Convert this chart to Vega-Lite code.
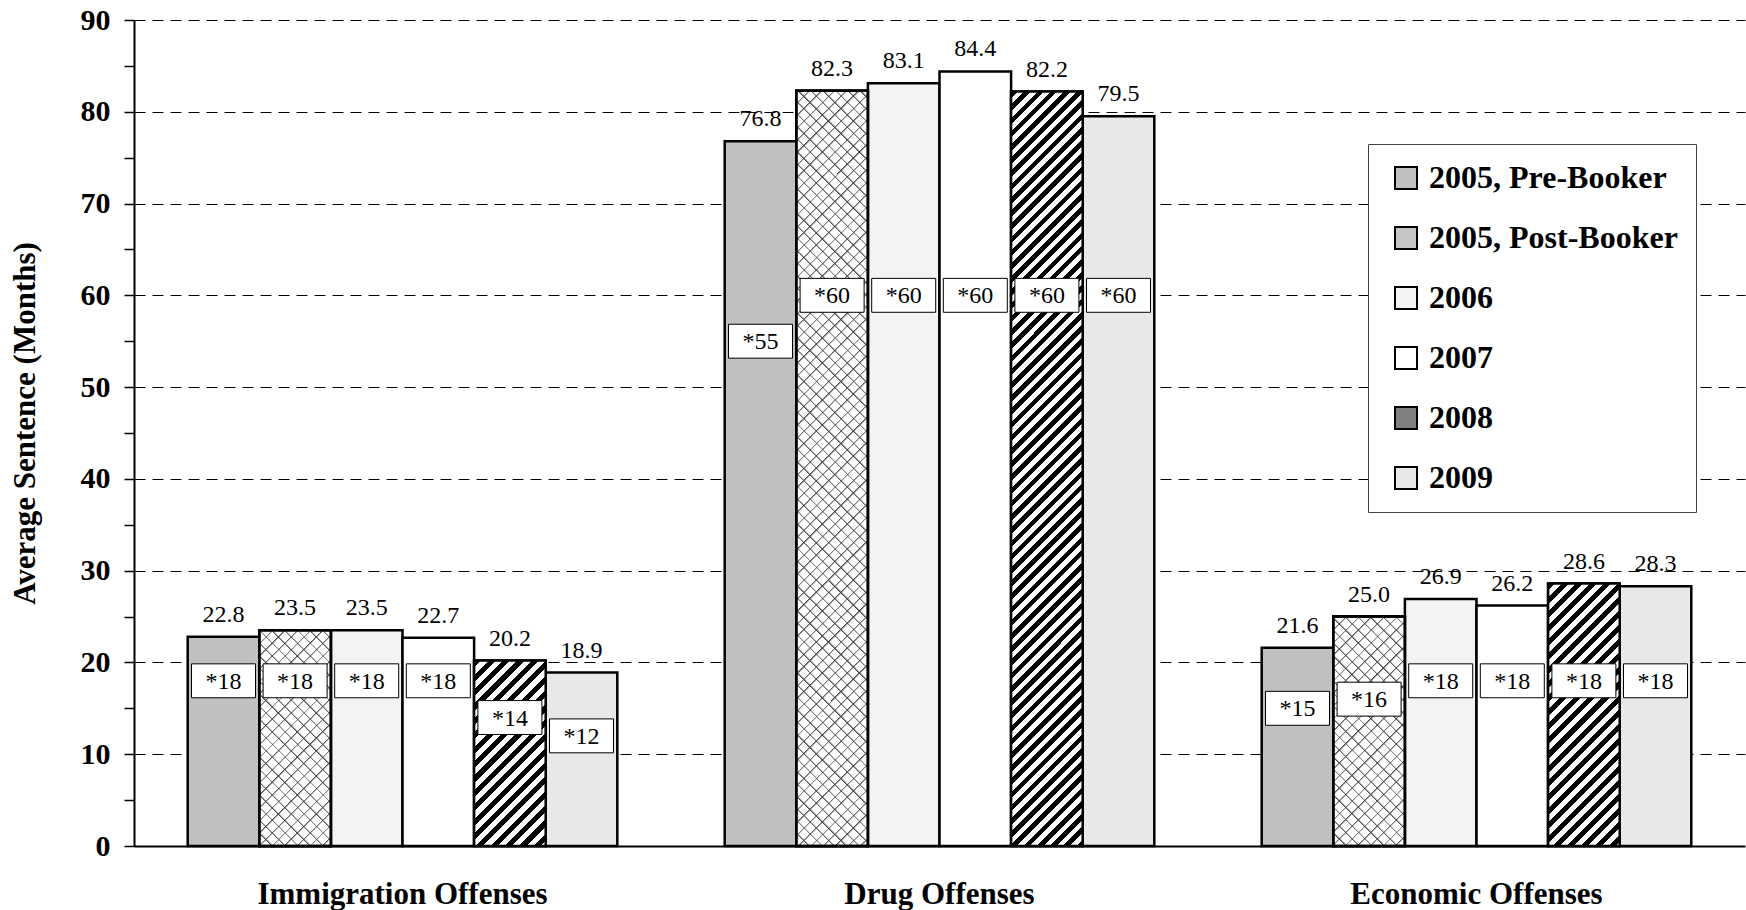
{
  "$schema": "https://vega.github.io/schema/vega-lite/v6.json",
  "autosize": {"type": "none"},
  "width": 1611,
  "height": 826,
  "padding": {"left": 134, "top": 20, "right": 1, "bottom": 64},
  "background": "white",
  "config": {"view": {"stroke": null}, "font": "Liberation Serif"},
  "data": {"values": [
    {"cat": "Immigration Offenses", "series": "2005, Pre-Booker", "value": 22.8, "median": 18, "mlabel": "*18"},
    {"cat": "Immigration Offenses", "series": "2005, Post-Booker", "value": 23.5, "median": 18, "mlabel": "*18"},
    {"cat": "Immigration Offenses", "series": "2006", "value": 23.5, "median": 18, "mlabel": "*18"},
    {"cat": "Immigration Offenses", "series": "2007", "value": 22.7, "median": 18, "mlabel": "*18"},
    {"cat": "Immigration Offenses", "series": "2008", "value": 20.2, "median": 14, "mlabel": "*14"},
    {"cat": "Immigration Offenses", "series": "2009", "value": 18.9, "median": 12, "mlabel": "*12"},
    {"cat": "Drug Offenses", "series": "2005, Pre-Booker", "value": 76.8, "median": 55, "mlabel": "*55"},
    {"cat": "Drug Offenses", "series": "2005, Post-Booker", "value": 82.3, "median": 60, "mlabel": "*60"},
    {"cat": "Drug Offenses", "series": "2006", "value": 83.1, "median": 60, "mlabel": "*60"},
    {"cat": "Drug Offenses", "series": "2007", "value": 84.4, "median": 60, "mlabel": "*60"},
    {"cat": "Drug Offenses", "series": "2008", "value": 82.2, "median": 60, "mlabel": "*60"},
    {"cat": "Drug Offenses", "series": "2009", "value": 79.5, "median": 60, "mlabel": "*60"},
    {"cat": "Economic Offenses", "series": "2005, Pre-Booker", "value": 21.6, "median": 15, "mlabel": "*15"},
    {"cat": "Economic Offenses", "series": "2005, Post-Booker", "value": 25.0, "median": 16, "mlabel": "*16"},
    {"cat": "Economic Offenses", "series": "2006", "value": 26.9, "median": 18, "mlabel": "*18"},
    {"cat": "Economic Offenses", "series": "2007", "value": 26.2, "median": 18, "mlabel": "*18"},
    {"cat": "Economic Offenses", "series": "2008", "value": 28.6, "median": 18, "mlabel": "*18"},
    {"cat": "Economic Offenses", "series": "2009", "value": 28.3, "median": 18, "mlabel": "*18"}
  ]},
  "encoding": {
    "x": {
      "field": "cat", "type": "nominal",
      "sort": ["Immigration Offenses", "Drug Offenses", "Economic Offenses"],
      "scale": {"paddingInner": 0.2, "paddingOuter": 0.1},
      "axis": {"title": null, "labelAngle": 0, "labelFont": "Liberation Serif", "labelFontWeight": "bold", "labelFontSize": 31, "labelColor": "#000", "labelLimit": 600, "ticks": false, "domainColor": "#000", "domainWidth": 2, "labelPadding": 57, "labelBaseline": "alphabetic"}
    },
    "xOffset": {
      "field": "series", "type": "nominal",
      "scale": {"domain": ["2005, Pre-Booker", "2005, Post-Booker", "2006", "2007", "2008", "2009"], "paddingInner": 0, "paddingOuter": 0}
    }
  },
  "layer": [
    {
      "mark": {"type": "bar", "stroke": "#000", "strokeWidth": 2.5},
      "encoding": {
        "y": {
          "field": "value", "type": "quantitative",
          "scale": {"domain": [0, 90], "nice": false},
          "axis": {
            "title": "Average Sentence (Months)", "titleFont": "Liberation Serif", "titleFontSize": 31, "titleFontWeight": "bold", "titleColor": "#000",
            "titleX": -109, "titleY": 403, "titleAngle": -90, "titleAlign": "center", "titleBaseline": "middle",
            "values": [0, 5, 10, 15, 20, 25, 30, 35, 40, 45, 50, 55, 60, 65, 70, 75, 80, 85, 90],
            "labelExpr": "datum.value % 10 === 0 ? datum.label : ''",
            "labelFont": "Liberation Serif", "labelFontWeight": "bold", "labelFontSize": 30, "labelColor": "#000", "labelPadding": 14, "labelBaseline": "middle",
            "tickColor": "#000", "tickSize": 10, "tickWidth": 1.5,
            "domainColor": "#000", "domainWidth": 2,
            "grid": true, "gridColor": "#000", "gridDash": [11, 7], "gridWidth": 1,
            "gridOpacity": {"condition": {"test": "datum.value % 10 === 0 && datum.value > 0", "value": 1}, "value": 0}
          }
        },
        "color": {
          "field": "series", "type": "nominal",
          "scale": {"domain": ["2005, Pre-Booker", "2005, Post-Booker", "2006", "2007", "2008", "2009"], "range": ["#c0c0c0", "#c6c6c6", "#f3f3f3", "#ffffff", "#808080", "#e8e8e8"]},
          "legend": {
            "title": null, "orient": "none", "legendX": 1234, "legendY": 124, "direction": "vertical",
            "fillColor": "#fff", "strokeColor": "#444", "padding": 18,
            "symbolType": "square", "symbolSize": 484, "symbolStrokeColor": "#000", "symbolStrokeWidth": 2, "symbolOffset": 4,
            "labelFont": "Liberation Serif", "labelFontWeight": "bold", "labelFontSize": 32, "labelColor": "#000", "labelOffset": 7, "rowPadding": 28, "labelLimit": 400
          }
        }
      }
    },
    {
      "transform": [{"filter": "datum.series === '2005, Post-Booker' && datum.cat === 'Immigration Offenses'"}],
      "mark": {"type": "bar", "stroke": "#000", "strokeWidth": 2.5, "fill": {"gradient": "linear", "x1": 0, "y1": 0, "x2": 0.3983, "y2": 1.1998, "stops": [
        {"offset":0,"color":"#444"},{"offset":0.008,"color":"#fff"},
        {"offset":0.044,"color":"#fff"},{"offset":0.044,"color":"#444"},{"offset":0.052,"color":"#fff"},
        {"offset":0.088,"color":"#fff"},{"offset":0.088,"color":"#444"},{"offset":0.096,"color":"#fff"},
        {"offset":0.132,"color":"#fff"},{"offset":0.132,"color":"#444"},{"offset":0.14,"color":"#fff"},
        {"offset":0.176,"color":"#fff"},{"offset":0.176,"color":"#444"},{"offset":0.184,"color":"#fff"},
        {"offset":0.22,"color":"#fff"},{"offset":0.22,"color":"#444"},{"offset":0.228,"color":"#fff"},
        {"offset":0.264,"color":"#fff"},{"offset":0.264,"color":"#444"},{"offset":0.272,"color":"#fff"},
        {"offset":0.308,"color":"#fff"},{"offset":0.308,"color":"#444"},{"offset":0.316,"color":"#fff"},
        {"offset":0.352,"color":"#fff"},{"offset":0.352,"color":"#444"},{"offset":0.36,"color":"#fff"},
        {"offset":0.396,"color":"#fff"},{"offset":0.396,"color":"#444"},{"offset":0.404,"color":"#fff"},
        {"offset":0.44,"color":"#fff"},{"offset":0.44,"color":"#444"},{"offset":0.448,"color":"#fff"},
        {"offset":0.484,"color":"#fff"},{"offset":0.484,"color":"#444"},{"offset":0.492,"color":"#fff"},
        {"offset":0.528,"color":"#fff"},{"offset":0.528,"color":"#444"},{"offset":0.536,"color":"#fff"},
        {"offset":0.572,"color":"#fff"},{"offset":0.572,"color":"#444"},{"offset":0.58,"color":"#fff"},
        {"offset":0.616,"color":"#fff"},{"offset":0.616,"color":"#444"},{"offset":0.624,"color":"#fff"},
        {"offset":0.66,"color":"#fff"},{"offset":0.66,"color":"#444"},{"offset":0.668,"color":"#fff"},
        {"offset":0.704,"color":"#fff"},{"offset":0.704,"color":"#444"},{"offset":0.712,"color":"#fff"},
        {"offset":0.748,"color":"#fff"},{"offset":0.748,"color":"#444"},{"offset":0.756,"color":"#fff"},
        {"offset":0.792,"color":"#fff"},{"offset":0.792,"color":"#444"},{"offset":0.8,"color":"#fff"},
        {"offset":0.836,"color":"#fff"},{"offset":0.836,"color":"#444"},{"offset":0.844,"color":"#fff"},
        {"offset":0.88,"color":"#fff"},{"offset":0.88,"color":"#444"},{"offset":0.888,"color":"#fff"},
        {"offset":0.924,"color":"#fff"},{"offset":0.924,"color":"#444"},{"offset":0.932,"color":"#fff"},
        {"offset":0.968,"color":"#fff"},{"offset":0.968,"color":"#444"},{"offset":0.976,"color":"#fff"}
      ]}},
      "encoding": {"y": {"field": "value", "type": "quantitative"}}
    },
    {
      "transform": [{"filter": "datum.series === '2005, Post-Booker' && datum.cat === 'Immigration Offenses'"}],
      "mark": {"type": "bar", "stroke": "#000", "strokeWidth": 2.5, "fill": {"gradient": "linear", "x1": 0, "y1": 1, "x2": 0.3983, "y2": -0.1998, "stops": [
        {"offset":0,"color":"#444"},{"offset":0.008,"color":"rgba(68,68,68,0)"},
        {"offset":0.044,"color":"rgba(68,68,68,0)"},{"offset":0.044,"color":"#444"},{"offset":0.052,"color":"rgba(68,68,68,0)"},
        {"offset":0.088,"color":"rgba(68,68,68,0)"},{"offset":0.088,"color":"#444"},{"offset":0.096,"color":"rgba(68,68,68,0)"},
        {"offset":0.132,"color":"rgba(68,68,68,0)"},{"offset":0.132,"color":"#444"},{"offset":0.14,"color":"rgba(68,68,68,0)"},
        {"offset":0.176,"color":"rgba(68,68,68,0)"},{"offset":0.176,"color":"#444"},{"offset":0.184,"color":"rgba(68,68,68,0)"},
        {"offset":0.22,"color":"rgba(68,68,68,0)"},{"offset":0.22,"color":"#444"},{"offset":0.228,"color":"rgba(68,68,68,0)"},
        {"offset":0.264,"color":"rgba(68,68,68,0)"},{"offset":0.264,"color":"#444"},{"offset":0.272,"color":"rgba(68,68,68,0)"},
        {"offset":0.308,"color":"rgba(68,68,68,0)"},{"offset":0.308,"color":"#444"},{"offset":0.316,"color":"rgba(68,68,68,0)"},
        {"offset":0.352,"color":"rgba(68,68,68,0)"},{"offset":0.352,"color":"#444"},{"offset":0.36,"color":"rgba(68,68,68,0)"},
        {"offset":0.396,"color":"rgba(68,68,68,0)"},{"offset":0.396,"color":"#444"},{"offset":0.404,"color":"rgba(68,68,68,0)"},
        {"offset":0.44,"color":"rgba(68,68,68,0)"},{"offset":0.44,"color":"#444"},{"offset":0.448,"color":"rgba(68,68,68,0)"},
        {"offset":0.484,"color":"rgba(68,68,68,0)"},{"offset":0.484,"color":"#444"},{"offset":0.492,"color":"rgba(68,68,68,0)"},
        {"offset":0.528,"color":"rgba(68,68,68,0)"},{"offset":0.528,"color":"#444"},{"offset":0.536,"color":"rgba(68,68,68,0)"},
        {"offset":0.572,"color":"rgba(68,68,68,0)"},{"offset":0.572,"color":"#444"},{"offset":0.58,"color":"rgba(68,68,68,0)"},
        {"offset":0.616,"color":"rgba(68,68,68,0)"},{"offset":0.616,"color":"#444"},{"offset":0.624,"color":"rgba(68,68,68,0)"},
        {"offset":0.66,"color":"rgba(68,68,68,0)"},{"offset":0.66,"color":"#444"},{"offset":0.668,"color":"rgba(68,68,68,0)"},
        {"offset":0.704,"color":"rgba(68,68,68,0)"},{"offset":0.704,"color":"#444"},{"offset":0.712,"color":"rgba(68,68,68,0)"},
        {"offset":0.748,"color":"rgba(68,68,68,0)"},{"offset":0.748,"color":"#444"},{"offset":0.756,"color":"rgba(68,68,68,0)"},
        {"offset":0.792,"color":"rgba(68,68,68,0)"},{"offset":0.792,"color":"#444"},{"offset":0.8,"color":"rgba(68,68,68,0)"},
        {"offset":0.836,"color":"rgba(68,68,68,0)"},{"offset":0.836,"color":"#444"},{"offset":0.844,"color":"rgba(68,68,68,0)"},
        {"offset":0.88,"color":"rgba(68,68,68,0)"},{"offset":0.88,"color":"#444"},{"offset":0.888,"color":"rgba(68,68,68,0)"},
        {"offset":0.924,"color":"rgba(68,68,68,0)"},{"offset":0.924,"color":"#444"},{"offset":0.932,"color":"rgba(68,68,68,0)"},
        {"offset":0.968,"color":"rgba(68,68,68,0)"},{"offset":0.968,"color":"#444"},{"offset":0.976,"color":"rgba(68,68,68,0)"}
      ]}},
      "encoding": {"y": {"field": "value", "type": "quantitative"}}
    },
    {
      "transform": [{"filter": "datum.series === '2005, Post-Booker' && datum.cat === 'Economic Offenses'"}],
      "mark": {"type": "bar", "stroke": "#000", "strokeWidth": 2.5, "fill": {"gradient": "linear", "x1": 0, "y1": 0, "x2": 0.3732, "y2": 1.1956, "stops": [
        {"offset":0,"color":"#444"},{"offset":0.008,"color":"#fff"},
        {"offset":0.042,"color":"#fff"},{"offset":0.042,"color":"#444"},{"offset":0.05,"color":"#fff"},
        {"offset":0.084,"color":"#fff"},{"offset":0.084,"color":"#444"},{"offset":0.092,"color":"#fff"},
        {"offset":0.126,"color":"#fff"},{"offset":0.126,"color":"#444"},{"offset":0.134,"color":"#fff"},
        {"offset":0.168,"color":"#fff"},{"offset":0.168,"color":"#444"},{"offset":0.176,"color":"#fff"},
        {"offset":0.21,"color":"#fff"},{"offset":0.21,"color":"#444"},{"offset":0.218,"color":"#fff"},
        {"offset":0.252,"color":"#fff"},{"offset":0.252,"color":"#444"},{"offset":0.26,"color":"#fff"},
        {"offset":0.294,"color":"#fff"},{"offset":0.294,"color":"#444"},{"offset":0.302,"color":"#fff"},
        {"offset":0.336,"color":"#fff"},{"offset":0.336,"color":"#444"},{"offset":0.344,"color":"#fff"},
        {"offset":0.378,"color":"#fff"},{"offset":0.378,"color":"#444"},{"offset":0.386,"color":"#fff"},
        {"offset":0.42,"color":"#fff"},{"offset":0.42,"color":"#444"},{"offset":0.428,"color":"#fff"},
        {"offset":0.462,"color":"#fff"},{"offset":0.462,"color":"#444"},{"offset":0.47,"color":"#fff"},
        {"offset":0.504,"color":"#fff"},{"offset":0.504,"color":"#444"},{"offset":0.512,"color":"#fff"},
        {"offset":0.546,"color":"#fff"},{"offset":0.546,"color":"#444"},{"offset":0.554,"color":"#fff"},
        {"offset":0.588,"color":"#fff"},{"offset":0.588,"color":"#444"},{"offset":0.596,"color":"#fff"},
        {"offset":0.63,"color":"#fff"},{"offset":0.63,"color":"#444"},{"offset":0.638,"color":"#fff"},
        {"offset":0.672,"color":"#fff"},{"offset":0.672,"color":"#444"},{"offset":0.68,"color":"#fff"},
        {"offset":0.714,"color":"#fff"},{"offset":0.714,"color":"#444"},{"offset":0.722,"color":"#fff"},
        {"offset":0.756,"color":"#fff"},{"offset":0.756,"color":"#444"},{"offset":0.764,"color":"#fff"},
        {"offset":0.798,"color":"#fff"},{"offset":0.798,"color":"#444"},{"offset":0.806,"color":"#fff"},
        {"offset":0.84,"color":"#fff"},{"offset":0.84,"color":"#444"},{"offset":0.848,"color":"#fff"},
        {"offset":0.882,"color":"#fff"},{"offset":0.882,"color":"#444"},{"offset":0.89,"color":"#fff"},
        {"offset":0.924,"color":"#fff"},{"offset":0.924,"color":"#444"},{"offset":0.932,"color":"#fff"},
        {"offset":0.966,"color":"#fff"},{"offset":0.966,"color":"#444"},{"offset":0.974,"color":"#fff"}
      ]}},
      "encoding": {"y": {"field": "value", "type": "quantitative"}}
    },
    {
      "transform": [{"filter": "datum.series === '2005, Post-Booker' && datum.cat === 'Economic Offenses'"}],
      "mark": {"type": "bar", "stroke": "#000", "strokeWidth": 2.5, "fill": {"gradient": "linear", "x1": 0, "y1": 1, "x2": 0.3732, "y2": -0.1956, "stops": [
        {"offset":0,"color":"#444"},{"offset":0.008,"color":"rgba(68,68,68,0)"},
        {"offset":0.042,"color":"rgba(68,68,68,0)"},{"offset":0.042,"color":"#444"},{"offset":0.05,"color":"rgba(68,68,68,0)"},
        {"offset":0.084,"color":"rgba(68,68,68,0)"},{"offset":0.084,"color":"#444"},{"offset":0.092,"color":"rgba(68,68,68,0)"},
        {"offset":0.126,"color":"rgba(68,68,68,0)"},{"offset":0.126,"color":"#444"},{"offset":0.134,"color":"rgba(68,68,68,0)"},
        {"offset":0.168,"color":"rgba(68,68,68,0)"},{"offset":0.168,"color":"#444"},{"offset":0.176,"color":"rgba(68,68,68,0)"},
        {"offset":0.21,"color":"rgba(68,68,68,0)"},{"offset":0.21,"color":"#444"},{"offset":0.218,"color":"rgba(68,68,68,0)"},
        {"offset":0.252,"color":"rgba(68,68,68,0)"},{"offset":0.252,"color":"#444"},{"offset":0.26,"color":"rgba(68,68,68,0)"},
        {"offset":0.294,"color":"rgba(68,68,68,0)"},{"offset":0.294,"color":"#444"},{"offset":0.302,"color":"rgba(68,68,68,0)"},
        {"offset":0.336,"color":"rgba(68,68,68,0)"},{"offset":0.336,"color":"#444"},{"offset":0.344,"color":"rgba(68,68,68,0)"},
        {"offset":0.378,"color":"rgba(68,68,68,0)"},{"offset":0.378,"color":"#444"},{"offset":0.386,"color":"rgba(68,68,68,0)"},
        {"offset":0.42,"color":"rgba(68,68,68,0)"},{"offset":0.42,"color":"#444"},{"offset":0.428,"color":"rgba(68,68,68,0)"},
        {"offset":0.462,"color":"rgba(68,68,68,0)"},{"offset":0.462,"color":"#444"},{"offset":0.47,"color":"rgba(68,68,68,0)"},
        {"offset":0.504,"color":"rgba(68,68,68,0)"},{"offset":0.504,"color":"#444"},{"offset":0.512,"color":"rgba(68,68,68,0)"},
        {"offset":0.546,"color":"rgba(68,68,68,0)"},{"offset":0.546,"color":"#444"},{"offset":0.554,"color":"rgba(68,68,68,0)"},
        {"offset":0.588,"color":"rgba(68,68,68,0)"},{"offset":0.588,"color":"#444"},{"offset":0.596,"color":"rgba(68,68,68,0)"},
        {"offset":0.63,"color":"rgba(68,68,68,0)"},{"offset":0.63,"color":"#444"},{"offset":0.638,"color":"rgba(68,68,68,0)"},
        {"offset":0.672,"color":"rgba(68,68,68,0)"},{"offset":0.672,"color":"#444"},{"offset":0.68,"color":"rgba(68,68,68,0)"},
        {"offset":0.714,"color":"rgba(68,68,68,0)"},{"offset":0.714,"color":"#444"},{"offset":0.722,"color":"rgba(68,68,68,0)"},
        {"offset":0.756,"color":"rgba(68,68,68,0)"},{"offset":0.756,"color":"#444"},{"offset":0.764,"color":"rgba(68,68,68,0)"},
        {"offset":0.798,"color":"rgba(68,68,68,0)"},{"offset":0.798,"color":"#444"},{"offset":0.806,"color":"rgba(68,68,68,0)"},
        {"offset":0.84,"color":"rgba(68,68,68,0)"},{"offset":0.84,"color":"#444"},{"offset":0.848,"color":"rgba(68,68,68,0)"},
        {"offset":0.882,"color":"rgba(68,68,68,0)"},{"offset":0.882,"color":"#444"},{"offset":0.89,"color":"rgba(68,68,68,0)"},
        {"offset":0.924,"color":"rgba(68,68,68,0)"},{"offset":0.924,"color":"#444"},{"offset":0.932,"color":"rgba(68,68,68,0)"},
        {"offset":0.966,"color":"rgba(68,68,68,0)"},{"offset":0.966,"color":"#444"},{"offset":0.974,"color":"rgba(68,68,68,0)"}
      ]}},
      "encoding": {"y": {"field": "value", "type": "quantitative"}}
    },
    {
      "transform": [{"filter": "datum.series === '2005, Post-Booker' && datum.cat === 'Drug Offenses'"}],
      "mark": {"type": "bar", "stroke": "#000", "strokeWidth": 2.5, "fill": {"gradient": "linear", "x1": 0, "y1": 0, "x2": 0.1029, "y2": 1.0851, "stops": [
        {"offset":0,"color":"#444"},{"offset":0.003,"color":"#fff"},
        {"offset":0.015,"color":"#fff"},{"offset":0.015,"color":"#444"},{"offset":0.018,"color":"#fff"},
        {"offset":0.03,"color":"#fff"},{"offset":0.03,"color":"#444"},{"offset":0.033,"color":"#fff"},
        {"offset":0.045,"color":"#fff"},{"offset":0.045,"color":"#444"},{"offset":0.048,"color":"#fff"},
        {"offset":0.06,"color":"#fff"},{"offset":0.06,"color":"#444"},{"offset":0.063,"color":"#fff"},
        {"offset":0.075,"color":"#fff"},{"offset":0.075,"color":"#444"},{"offset":0.078,"color":"#fff"},
        {"offset":0.09,"color":"#fff"},{"offset":0.09,"color":"#444"},{"offset":0.093,"color":"#fff"},
        {"offset":0.105,"color":"#fff"},{"offset":0.105,"color":"#444"},{"offset":0.108,"color":"#fff"},
        {"offset":0.12,"color":"#fff"},{"offset":0.12,"color":"#444"},{"offset":0.123,"color":"#fff"},
        {"offset":0.135,"color":"#fff"},{"offset":0.135,"color":"#444"},{"offset":0.138,"color":"#fff"},
        {"offset":0.15,"color":"#fff"},{"offset":0.15,"color":"#444"},{"offset":0.153,"color":"#fff"},
        {"offset":0.165,"color":"#fff"},{"offset":0.165,"color":"#444"},{"offset":0.168,"color":"#fff"},
        {"offset":0.18,"color":"#fff"},{"offset":0.18,"color":"#444"},{"offset":0.183,"color":"#fff"},
        {"offset":0.195,"color":"#fff"},{"offset":0.195,"color":"#444"},{"offset":0.198,"color":"#fff"},
        {"offset":0.21,"color":"#fff"},{"offset":0.21,"color":"#444"},{"offset":0.213,"color":"#fff"},
        {"offset":0.225,"color":"#fff"},{"offset":0.225,"color":"#444"},{"offset":0.228,"color":"#fff"},
        {"offset":0.24,"color":"#fff"},{"offset":0.24,"color":"#444"},{"offset":0.243,"color":"#fff"},
        {"offset":0.255,"color":"#fff"},{"offset":0.255,"color":"#444"},{"offset":0.258,"color":"#fff"},
        {"offset":0.27,"color":"#fff"},{"offset":0.27,"color":"#444"},{"offset":0.273,"color":"#fff"},
        {"offset":0.285,"color":"#fff"},{"offset":0.285,"color":"#444"},{"offset":0.288,"color":"#fff"},
        {"offset":0.3,"color":"#fff"},{"offset":0.3,"color":"#444"},{"offset":0.303,"color":"#fff"},
        {"offset":0.315,"color":"#fff"},{"offset":0.315,"color":"#444"},{"offset":0.318,"color":"#fff"},
        {"offset":0.33,"color":"#fff"},{"offset":0.33,"color":"#444"},{"offset":0.333,"color":"#fff"},
        {"offset":0.345,"color":"#fff"},{"offset":0.345,"color":"#444"},{"offset":0.348,"color":"#fff"},
        {"offset":0.36,"color":"#fff"},{"offset":0.36,"color":"#444"},{"offset":0.363,"color":"#fff"},
        {"offset":0.375,"color":"#fff"},{"offset":0.375,"color":"#444"},{"offset":0.378,"color":"#fff"},
        {"offset":0.39,"color":"#fff"},{"offset":0.39,"color":"#444"},{"offset":0.393,"color":"#fff"},
        {"offset":0.405,"color":"#fff"},{"offset":0.405,"color":"#444"},{"offset":0.408,"color":"#fff"},
        {"offset":0.42,"color":"#fff"},{"offset":0.42,"color":"#444"},{"offset":0.423,"color":"#fff"},
        {"offset":0.435,"color":"#fff"},{"offset":0.435,"color":"#444"},{"offset":0.438,"color":"#fff"},
        {"offset":0.45,"color":"#fff"},{"offset":0.45,"color":"#444"},{"offset":0.453,"color":"#fff"},
        {"offset":0.465,"color":"#fff"},{"offset":0.465,"color":"#444"},{"offset":0.468,"color":"#fff"},
        {"offset":0.48,"color":"#fff"},{"offset":0.48,"color":"#444"},{"offset":0.483,"color":"#fff"},
        {"offset":0.495,"color":"#fff"},{"offset":0.495,"color":"#444"},{"offset":0.498,"color":"#fff"},
        {"offset":0.51,"color":"#fff"},{"offset":0.51,"color":"#444"},{"offset":0.513,"color":"#fff"},
        {"offset":0.525,"color":"#fff"},{"offset":0.525,"color":"#444"},{"offset":0.528,"color":"#fff"},
        {"offset":0.54,"color":"#fff"},{"offset":0.54,"color":"#444"},{"offset":0.543,"color":"#fff"},
        {"offset":0.555,"color":"#fff"},{"offset":0.555,"color":"#444"},{"offset":0.558,"color":"#fff"},
        {"offset":0.57,"color":"#fff"},{"offset":0.57,"color":"#444"},{"offset":0.573,"color":"#fff"},
        {"offset":0.585,"color":"#fff"},{"offset":0.585,"color":"#444"},{"offset":0.588,"color":"#fff"},
        {"offset":0.6,"color":"#fff"},{"offset":0.6,"color":"#444"},{"offset":0.603,"color":"#fff"},
        {"offset":0.615,"color":"#fff"},{"offset":0.615,"color":"#444"},{"offset":0.618,"color":"#fff"},
        {"offset":0.63,"color":"#fff"},{"offset":0.63,"color":"#444"},{"offset":0.633,"color":"#fff"},
        {"offset":0.645,"color":"#fff"},{"offset":0.645,"color":"#444"},{"offset":0.648,"color":"#fff"},
        {"offset":0.66,"color":"#fff"},{"offset":0.66,"color":"#444"},{"offset":0.663,"color":"#fff"},
        {"offset":0.675,"color":"#fff"},{"offset":0.675,"color":"#444"},{"offset":0.678,"color":"#fff"},
        {"offset":0.69,"color":"#fff"},{"offset":0.69,"color":"#444"},{"offset":0.693,"color":"#fff"},
        {"offset":0.705,"color":"#fff"},{"offset":0.705,"color":"#444"},{"offset":0.708,"color":"#fff"},
        {"offset":0.72,"color":"#fff"},{"offset":0.72,"color":"#444"},{"offset":0.723,"color":"#fff"},
        {"offset":0.735,"color":"#fff"},{"offset":0.735,"color":"#444"},{"offset":0.738,"color":"#fff"},
        {"offset":0.75,"color":"#fff"},{"offset":0.75,"color":"#444"},{"offset":0.753,"color":"#fff"},
        {"offset":0.765,"color":"#fff"},{"offset":0.765,"color":"#444"},{"offset":0.768,"color":"#fff"},
        {"offset":0.78,"color":"#fff"},{"offset":0.78,"color":"#444"},{"offset":0.783,"color":"#fff"},
        {"offset":0.795,"color":"#fff"},{"offset":0.795,"color":"#444"},{"offset":0.798,"color":"#fff"},
        {"offset":0.81,"color":"#fff"},{"offset":0.81,"color":"#444"},{"offset":0.813,"color":"#fff"},
        {"offset":0.825,"color":"#fff"},{"offset":0.825,"color":"#444"},{"offset":0.828,"color":"#fff"},
        {"offset":0.84,"color":"#fff"},{"offset":0.84,"color":"#444"},{"offset":0.843,"color":"#fff"},
        {"offset":0.855,"color":"#fff"},{"offset":0.855,"color":"#444"},{"offset":0.858,"color":"#fff"},
        {"offset":0.87,"color":"#fff"},{"offset":0.87,"color":"#444"},{"offset":0.873,"color":"#fff"},
        {"offset":0.885,"color":"#fff"},{"offset":0.885,"color":"#444"},{"offset":0.888,"color":"#fff"},
        {"offset":0.9,"color":"#fff"},{"offset":0.9,"color":"#444"},{"offset":0.903,"color":"#fff"},
        {"offset":0.915,"color":"#fff"},{"offset":0.915,"color":"#444"},{"offset":0.918,"color":"#fff"},
        {"offset":0.93,"color":"#fff"},{"offset":0.93,"color":"#444"},{"offset":0.933,"color":"#fff"},
        {"offset":0.945,"color":"#fff"},{"offset":0.945,"color":"#444"},{"offset":0.948,"color":"#fff"},
        {"offset":0.96,"color":"#fff"},{"offset":0.96,"color":"#444"},{"offset":0.963,"color":"#fff"},
        {"offset":0.975,"color":"#fff"},{"offset":0.975,"color":"#444"},{"offset":0.978,"color":"#fff"},
        {"offset":0.99,"color":"#fff"},{"offset":0.99,"color":"#444"},{"offset":0.993,"color":"#fff"}
      ]}},
      "encoding": {"y": {"field": "value", "type": "quantitative"}}
    },
    {
      "transform": [{"filter": "datum.series === '2005, Post-Booker' && datum.cat === 'Drug Offenses'"}],
      "mark": {"type": "bar", "stroke": "#000", "strokeWidth": 2.5, "fill": {"gradient": "linear", "x1": 0, "y1": 1, "x2": 0.1029, "y2": -0.0851, "stops": [
        {"offset":0,"color":"#444"},{"offset":0.003,"color":"rgba(68,68,68,0)"},
        {"offset":0.015,"color":"rgba(68,68,68,0)"},{"offset":0.015,"color":"#444"},{"offset":0.018,"color":"rgba(68,68,68,0)"},
        {"offset":0.03,"color":"rgba(68,68,68,0)"},{"offset":0.03,"color":"#444"},{"offset":0.033,"color":"rgba(68,68,68,0)"},
        {"offset":0.045,"color":"rgba(68,68,68,0)"},{"offset":0.045,"color":"#444"},{"offset":0.048,"color":"rgba(68,68,68,0)"},
        {"offset":0.06,"color":"rgba(68,68,68,0)"},{"offset":0.06,"color":"#444"},{"offset":0.063,"color":"rgba(68,68,68,0)"},
        {"offset":0.075,"color":"rgba(68,68,68,0)"},{"offset":0.075,"color":"#444"},{"offset":0.078,"color":"rgba(68,68,68,0)"},
        {"offset":0.09,"color":"rgba(68,68,68,0)"},{"offset":0.09,"color":"#444"},{"offset":0.093,"color":"rgba(68,68,68,0)"},
        {"offset":0.105,"color":"rgba(68,68,68,0)"},{"offset":0.105,"color":"#444"},{"offset":0.108,"color":"rgba(68,68,68,0)"},
        {"offset":0.12,"color":"rgba(68,68,68,0)"},{"offset":0.12,"color":"#444"},{"offset":0.123,"color":"rgba(68,68,68,0)"},
        {"offset":0.135,"color":"rgba(68,68,68,0)"},{"offset":0.135,"color":"#444"},{"offset":0.138,"color":"rgba(68,68,68,0)"},
        {"offset":0.15,"color":"rgba(68,68,68,0)"},{"offset":0.15,"color":"#444"},{"offset":0.153,"color":"rgba(68,68,68,0)"},
        {"offset":0.165,"color":"rgba(68,68,68,0)"},{"offset":0.165,"color":"#444"},{"offset":0.168,"color":"rgba(68,68,68,0)"},
        {"offset":0.18,"color":"rgba(68,68,68,0)"},{"offset":0.18,"color":"#444"},{"offset":0.183,"color":"rgba(68,68,68,0)"},
        {"offset":0.195,"color":"rgba(68,68,68,0)"},{"offset":0.195,"color":"#444"},{"offset":0.198,"color":"rgba(68,68,68,0)"},
        {"offset":0.21,"color":"rgba(68,68,68,0)"},{"offset":0.21,"color":"#444"},{"offset":0.213,"color":"rgba(68,68,68,0)"},
        {"offset":0.225,"color":"rgba(68,68,68,0)"},{"offset":0.225,"color":"#444"},{"offset":0.228,"color":"rgba(68,68,68,0)"},
        {"offset":0.24,"color":"rgba(68,68,68,0)"},{"offset":0.24,"color":"#444"},{"offset":0.243,"color":"rgba(68,68,68,0)"},
        {"offset":0.255,"color":"rgba(68,68,68,0)"},{"offset":0.255,"color":"#444"},{"offset":0.258,"color":"rgba(68,68,68,0)"},
        {"offset":0.27,"color":"rgba(68,68,68,0)"},{"offset":0.27,"color":"#444"},{"offset":0.273,"color":"rgba(68,68,68,0)"},
        {"offset":0.285,"color":"rgba(68,68,68,0)"},{"offset":0.285,"color":"#444"},{"offset":0.288,"color":"rgba(68,68,68,0)"},
        {"offset":0.3,"color":"rgba(68,68,68,0)"},{"offset":0.3,"color":"#444"},{"offset":0.303,"color":"rgba(68,68,68,0)"},
        {"offset":0.315,"color":"rgba(68,68,68,0)"},{"offset":0.315,"color":"#444"},{"offset":0.318,"color":"rgba(68,68,68,0)"},
        {"offset":0.33,"color":"rgba(68,68,68,0)"},{"offset":0.33,"color":"#444"},{"offset":0.333,"color":"rgba(68,68,68,0)"},
        {"offset":0.345,"color":"rgba(68,68,68,0)"},{"offset":0.345,"color":"#444"},{"offset":0.348,"color":"rgba(68,68,68,0)"},
        {"offset":0.36,"color":"rgba(68,68,68,0)"},{"offset":0.36,"color":"#444"},{"offset":0.363,"color":"rgba(68,68,68,0)"},
        {"offset":0.375,"color":"rgba(68,68,68,0)"},{"offset":0.375,"color":"#444"},{"offset":0.378,"color":"rgba(68,68,68,0)"},
        {"offset":0.39,"color":"rgba(68,68,68,0)"},{"offset":0.39,"color":"#444"},{"offset":0.393,"color":"rgba(68,68,68,0)"},
        {"offset":0.405,"color":"rgba(68,68,68,0)"},{"offset":0.405,"color":"#444"},{"offset":0.408,"color":"rgba(68,68,68,0)"},
        {"offset":0.42,"color":"rgba(68,68,68,0)"},{"offset":0.42,"color":"#444"},{"offset":0.423,"color":"rgba(68,68,68,0)"},
        {"offset":0.435,"color":"rgba(68,68,68,0)"},{"offset":0.435,"color":"#444"},{"offset":0.438,"color":"rgba(68,68,68,0)"},
        {"offset":0.45,"color":"rgba(68,68,68,0)"},{"offset":0.45,"color":"#444"},{"offset":0.453,"color":"rgba(68,68,68,0)"},
        {"offset":0.465,"color":"rgba(68,68,68,0)"},{"offset":0.465,"color":"#444"},{"offset":0.468,"color":"rgba(68,68,68,0)"},
        {"offset":0.48,"color":"rgba(68,68,68,0)"},{"offset":0.48,"color":"#444"},{"offset":0.483,"color":"rgba(68,68,68,0)"},
        {"offset":0.495,"color":"rgba(68,68,68,0)"},{"offset":0.495,"color":"#444"},{"offset":0.498,"color":"rgba(68,68,68,0)"},
        {"offset":0.51,"color":"rgba(68,68,68,0)"},{"offset":0.51,"color":"#444"},{"offset":0.513,"color":"rgba(68,68,68,0)"},
        {"offset":0.525,"color":"rgba(68,68,68,0)"},{"offset":0.525,"color":"#444"},{"offset":0.528,"color":"rgba(68,68,68,0)"},
        {"offset":0.54,"color":"rgba(68,68,68,0)"},{"offset":0.54,"color":"#444"},{"offset":0.543,"color":"rgba(68,68,68,0)"},
        {"offset":0.555,"color":"rgba(68,68,68,0)"},{"offset":0.555,"color":"#444"},{"offset":0.558,"color":"rgba(68,68,68,0)"},
        {"offset":0.57,"color":"rgba(68,68,68,0)"},{"offset":0.57,"color":"#444"},{"offset":0.573,"color":"rgba(68,68,68,0)"},
        {"offset":0.585,"color":"rgba(68,68,68,0)"},{"offset":0.585,"color":"#444"},{"offset":0.588,"color":"rgba(68,68,68,0)"},
        {"offset":0.6,"color":"rgba(68,68,68,0)"},{"offset":0.6,"color":"#444"},{"offset":0.603,"color":"rgba(68,68,68,0)"},
        {"offset":0.615,"color":"rgba(68,68,68,0)"},{"offset":0.615,"color":"#444"},{"offset":0.618,"color":"rgba(68,68,68,0)"},
        {"offset":0.63,"color":"rgba(68,68,68,0)"},{"offset":0.63,"color":"#444"},{"offset":0.633,"color":"rgba(68,68,68,0)"},
        {"offset":0.645,"color":"rgba(68,68,68,0)"},{"offset":0.645,"color":"#444"},{"offset":0.648,"color":"rgba(68,68,68,0)"},
        {"offset":0.66,"color":"rgba(68,68,68,0)"},{"offset":0.66,"color":"#444"},{"offset":0.663,"color":"rgba(68,68,68,0)"},
        {"offset":0.675,"color":"rgba(68,68,68,0)"},{"offset":0.675,"color":"#444"},{"offset":0.678,"color":"rgba(68,68,68,0)"},
        {"offset":0.69,"color":"rgba(68,68,68,0)"},{"offset":0.69,"color":"#444"},{"offset":0.693,"color":"rgba(68,68,68,0)"},
        {"offset":0.705,"color":"rgba(68,68,68,0)"},{"offset":0.705,"color":"#444"},{"offset":0.708,"color":"rgba(68,68,68,0)"},
        {"offset":0.72,"color":"rgba(68,68,68,0)"},{"offset":0.72,"color":"#444"},{"offset":0.723,"color":"rgba(68,68,68,0)"},
        {"offset":0.735,"color":"rgba(68,68,68,0)"},{"offset":0.735,"color":"#444"},{"offset":0.738,"color":"rgba(68,68,68,0)"},
        {"offset":0.75,"color":"rgba(68,68,68,0)"},{"offset":0.75,"color":"#444"},{"offset":0.753,"color":"rgba(68,68,68,0)"},
        {"offset":0.765,"color":"rgba(68,68,68,0)"},{"offset":0.765,"color":"#444"},{"offset":0.768,"color":"rgba(68,68,68,0)"},
        {"offset":0.78,"color":"rgba(68,68,68,0)"},{"offset":0.78,"color":"#444"},{"offset":0.783,"color":"rgba(68,68,68,0)"},
        {"offset":0.795,"color":"rgba(68,68,68,0)"},{"offset":0.795,"color":"#444"},{"offset":0.798,"color":"rgba(68,68,68,0)"},
        {"offset":0.81,"color":"rgba(68,68,68,0)"},{"offset":0.81,"color":"#444"},{"offset":0.813,"color":"rgba(68,68,68,0)"},
        {"offset":0.825,"color":"rgba(68,68,68,0)"},{"offset":0.825,"color":"#444"},{"offset":0.828,"color":"rgba(68,68,68,0)"},
        {"offset":0.84,"color":"rgba(68,68,68,0)"},{"offset":0.84,"color":"#444"},{"offset":0.843,"color":"rgba(68,68,68,0)"},
        {"offset":0.855,"color":"rgba(68,68,68,0)"},{"offset":0.855,"color":"#444"},{"offset":0.858,"color":"rgba(68,68,68,0)"},
        {"offset":0.87,"color":"rgba(68,68,68,0)"},{"offset":0.87,"color":"#444"},{"offset":0.873,"color":"rgba(68,68,68,0)"},
        {"offset":0.885,"color":"rgba(68,68,68,0)"},{"offset":0.885,"color":"#444"},{"offset":0.888,"color":"rgba(68,68,68,0)"},
        {"offset":0.9,"color":"rgba(68,68,68,0)"},{"offset":0.9,"color":"#444"},{"offset":0.903,"color":"rgba(68,68,68,0)"},
        {"offset":0.915,"color":"rgba(68,68,68,0)"},{"offset":0.915,"color":"#444"},{"offset":0.918,"color":"rgba(68,68,68,0)"},
        {"offset":0.93,"color":"rgba(68,68,68,0)"},{"offset":0.93,"color":"#444"},{"offset":0.933,"color":"rgba(68,68,68,0)"},
        {"offset":0.945,"color":"rgba(68,68,68,0)"},{"offset":0.945,"color":"#444"},{"offset":0.948,"color":"rgba(68,68,68,0)"},
        {"offset":0.96,"color":"rgba(68,68,68,0)"},{"offset":0.96,"color":"#444"},{"offset":0.963,"color":"rgba(68,68,68,0)"},
        {"offset":0.975,"color":"rgba(68,68,68,0)"},{"offset":0.975,"color":"#444"},{"offset":0.978,"color":"rgba(68,68,68,0)"},
        {"offset":0.99,"color":"rgba(68,68,68,0)"},{"offset":0.99,"color":"#444"},{"offset":0.993,"color":"rgba(68,68,68,0)"}
      ]}},
      "encoding": {"y": {"field": "value", "type": "quantitative"}}
    },
    {
      "transform": [{"filter": "datum.series === '2008' && datum.cat === 'Immigration Offenses'"}],
      "mark": {"type": "bar", "stroke": "#000", "strokeWidth": 2.5, "fill": {"gradient": "linear", "x1": 0, "y1": 0, "x2": 0.4659, "y2": 1.2063, "stops": [
        {"offset":0,"color":"#000"},{"offset":0.028,"color":"#000"},{"offset":0.028,"color":"#fff"},{"offset":0.056,"color":"#fff"},
        {"offset":0.056,"color":"#000"},{"offset":0.084,"color":"#000"},{"offset":0.084,"color":"#fff"},{"offset":0.112,"color":"#fff"},
        {"offset":0.112,"color":"#000"},{"offset":0.14,"color":"#000"},{"offset":0.14,"color":"#fff"},{"offset":0.168,"color":"#fff"},
        {"offset":0.168,"color":"#000"},{"offset":0.196,"color":"#000"},{"offset":0.196,"color":"#fff"},{"offset":0.224,"color":"#fff"},
        {"offset":0.224,"color":"#000"},{"offset":0.252,"color":"#000"},{"offset":0.252,"color":"#fff"},{"offset":0.28,"color":"#fff"},
        {"offset":0.28,"color":"#000"},{"offset":0.308,"color":"#000"},{"offset":0.308,"color":"#fff"},{"offset":0.336,"color":"#fff"},
        {"offset":0.336,"color":"#000"},{"offset":0.364,"color":"#000"},{"offset":0.364,"color":"#fff"},{"offset":0.392,"color":"#fff"},
        {"offset":0.392,"color":"#000"},{"offset":0.42,"color":"#000"},{"offset":0.42,"color":"#fff"},{"offset":0.448,"color":"#fff"},
        {"offset":0.448,"color":"#000"},{"offset":0.476,"color":"#000"},{"offset":0.476,"color":"#fff"},{"offset":0.504,"color":"#fff"},
        {"offset":0.504,"color":"#000"},{"offset":0.532,"color":"#000"},{"offset":0.532,"color":"#fff"},{"offset":0.56,"color":"#fff"},
        {"offset":0.56,"color":"#000"},{"offset":0.588,"color":"#000"},{"offset":0.588,"color":"#fff"},{"offset":0.616,"color":"#fff"},
        {"offset":0.616,"color":"#000"},{"offset":0.644,"color":"#000"},{"offset":0.644,"color":"#fff"},{"offset":0.672,"color":"#fff"},
        {"offset":0.672,"color":"#000"},{"offset":0.7,"color":"#000"},{"offset":0.7,"color":"#fff"},{"offset":0.728,"color":"#fff"},
        {"offset":0.728,"color":"#000"},{"offset":0.756,"color":"#000"},{"offset":0.756,"color":"#fff"},{"offset":0.784,"color":"#fff"},
        {"offset":0.784,"color":"#000"},{"offset":0.812,"color":"#000"},{"offset":0.812,"color":"#fff"},{"offset":0.84,"color":"#fff"},
        {"offset":0.84,"color":"#000"},{"offset":0.868,"color":"#000"},{"offset":0.868,"color":"#fff"},{"offset":0.896,"color":"#fff"},
        {"offset":0.896,"color":"#000"},{"offset":0.924,"color":"#000"},{"offset":0.924,"color":"#fff"},{"offset":0.952,"color":"#fff"},
        {"offset":0.952,"color":"#000"},{"offset":0.98,"color":"#000"},{"offset":0.98,"color":"#fff"},{"offset":1,"color":"#fff"}
      ]}},
      "encoding": {"y": {"field": "value", "type": "quantitative"}}
    },
    {
      "transform": [{"filter": "datum.series === '2008' && datum.cat === 'Economic Offenses'"}],
      "mark": {"type": "bar", "stroke": "#000", "strokeWidth": 2.5, "fill": {"gradient": "linear", "x1": 0, "y1": 0, "x2": 0.3231, "y2": 1.1846, "stops": [
        {"offset":0,"color":"#000"},{"offset":0.021,"color":"#000"},{"offset":0.021,"color":"#fff"},{"offset":0.042,"color":"#fff"},
        {"offset":0.042,"color":"#000"},{"offset":0.063,"color":"#000"},{"offset":0.063,"color":"#fff"},{"offset":0.084,"color":"#fff"},
        {"offset":0.084,"color":"#000"},{"offset":0.105,"color":"#000"},{"offset":0.105,"color":"#fff"},{"offset":0.126,"color":"#fff"},
        {"offset":0.126,"color":"#000"},{"offset":0.147,"color":"#000"},{"offset":0.147,"color":"#fff"},{"offset":0.168,"color":"#fff"},
        {"offset":0.168,"color":"#000"},{"offset":0.189,"color":"#000"},{"offset":0.189,"color":"#fff"},{"offset":0.21,"color":"#fff"},
        {"offset":0.21,"color":"#000"},{"offset":0.231,"color":"#000"},{"offset":0.231,"color":"#fff"},{"offset":0.252,"color":"#fff"},
        {"offset":0.252,"color":"#000"},{"offset":0.273,"color":"#000"},{"offset":0.273,"color":"#fff"},{"offset":0.294,"color":"#fff"},
        {"offset":0.294,"color":"#000"},{"offset":0.315,"color":"#000"},{"offset":0.315,"color":"#fff"},{"offset":0.336,"color":"#fff"},
        {"offset":0.336,"color":"#000"},{"offset":0.357,"color":"#000"},{"offset":0.357,"color":"#fff"},{"offset":0.378,"color":"#fff"},
        {"offset":0.378,"color":"#000"},{"offset":0.399,"color":"#000"},{"offset":0.399,"color":"#fff"},{"offset":0.42,"color":"#fff"},
        {"offset":0.42,"color":"#000"},{"offset":0.441,"color":"#000"},{"offset":0.441,"color":"#fff"},{"offset":0.462,"color":"#fff"},
        {"offset":0.462,"color":"#000"},{"offset":0.483,"color":"#000"},{"offset":0.483,"color":"#fff"},{"offset":0.504,"color":"#fff"},
        {"offset":0.504,"color":"#000"},{"offset":0.525,"color":"#000"},{"offset":0.525,"color":"#fff"},{"offset":0.546,"color":"#fff"},
        {"offset":0.546,"color":"#000"},{"offset":0.567,"color":"#000"},{"offset":0.567,"color":"#fff"},{"offset":0.588,"color":"#fff"},
        {"offset":0.588,"color":"#000"},{"offset":0.609,"color":"#000"},{"offset":0.609,"color":"#fff"},{"offset":0.63,"color":"#fff"},
        {"offset":0.63,"color":"#000"},{"offset":0.651,"color":"#000"},{"offset":0.651,"color":"#fff"},{"offset":0.672,"color":"#fff"},
        {"offset":0.672,"color":"#000"},{"offset":0.693,"color":"#000"},{"offset":0.693,"color":"#fff"},{"offset":0.714,"color":"#fff"},
        {"offset":0.714,"color":"#000"},{"offset":0.735,"color":"#000"},{"offset":0.735,"color":"#fff"},{"offset":0.756,"color":"#fff"},
        {"offset":0.756,"color":"#000"},{"offset":0.777,"color":"#000"},{"offset":0.777,"color":"#fff"},{"offset":0.798,"color":"#fff"},
        {"offset":0.798,"color":"#000"},{"offset":0.819,"color":"#000"},{"offset":0.819,"color":"#fff"},{"offset":0.84,"color":"#fff"},
        {"offset":0.84,"color":"#000"},{"offset":0.861,"color":"#000"},{"offset":0.861,"color":"#fff"},{"offset":0.882,"color":"#fff"},
        {"offset":0.882,"color":"#000"},{"offset":0.903,"color":"#000"},{"offset":0.903,"color":"#fff"},{"offset":0.924,"color":"#fff"},
        {"offset":0.924,"color":"#000"},{"offset":0.945,"color":"#000"},{"offset":0.945,"color":"#fff"},{"offset":0.966,"color":"#fff"},
        {"offset":0.966,"color":"#000"},{"offset":0.987,"color":"#000"},{"offset":0.987,"color":"#fff"},{"offset":1,"color":"#fff"}
      ]}},
      "encoding": {"y": {"field": "value", "type": "quantitative"}}
    },
    {
      "transform": [{"filter": "datum.series === '2008' && datum.cat === 'Drug Offenses'"}],
      "mark": {"type": "bar", "stroke": "#000", "strokeWidth": 2.5, "fill": {"gradient": "linear", "x1": 0, "y1": 0, "x2": 0.103, "y2": 1.0851, "stops": [
        {"offset":0,"color":"#000"},{"offset":0.008,"color":"#000"},{"offset":0.008,"color":"#fff"},{"offset":0.016,"color":"#fff"},
        {"offset":0.016,"color":"#000"},{"offset":0.024,"color":"#000"},{"offset":0.024,"color":"#fff"},{"offset":0.032,"color":"#fff"},
        {"offset":0.032,"color":"#000"},{"offset":0.04,"color":"#000"},{"offset":0.04,"color":"#fff"},{"offset":0.048,"color":"#fff"},
        {"offset":0.048,"color":"#000"},{"offset":0.056,"color":"#000"},{"offset":0.056,"color":"#fff"},{"offset":0.064,"color":"#fff"},
        {"offset":0.064,"color":"#000"},{"offset":0.072,"color":"#000"},{"offset":0.072,"color":"#fff"},{"offset":0.08,"color":"#fff"},
        {"offset":0.08,"color":"#000"},{"offset":0.088,"color":"#000"},{"offset":0.088,"color":"#fff"},{"offset":0.096,"color":"#fff"},
        {"offset":0.096,"color":"#000"},{"offset":0.104,"color":"#000"},{"offset":0.104,"color":"#fff"},{"offset":0.112,"color":"#fff"},
        {"offset":0.112,"color":"#000"},{"offset":0.12,"color":"#000"},{"offset":0.12,"color":"#fff"},{"offset":0.128,"color":"#fff"},
        {"offset":0.128,"color":"#000"},{"offset":0.136,"color":"#000"},{"offset":0.136,"color":"#fff"},{"offset":0.144,"color":"#fff"},
        {"offset":0.144,"color":"#000"},{"offset":0.152,"color":"#000"},{"offset":0.152,"color":"#fff"},{"offset":0.16,"color":"#fff"},
        {"offset":0.16,"color":"#000"},{"offset":0.168,"color":"#000"},{"offset":0.168,"color":"#fff"},{"offset":0.176,"color":"#fff"},
        {"offset":0.176,"color":"#000"},{"offset":0.184,"color":"#000"},{"offset":0.184,"color":"#fff"},{"offset":0.192,"color":"#fff"},
        {"offset":0.192,"color":"#000"},{"offset":0.2,"color":"#000"},{"offset":0.2,"color":"#fff"},{"offset":0.208,"color":"#fff"},
        {"offset":0.208,"color":"#000"},{"offset":0.216,"color":"#000"},{"offset":0.216,"color":"#fff"},{"offset":0.224,"color":"#fff"},
        {"offset":0.224,"color":"#000"},{"offset":0.232,"color":"#000"},{"offset":0.232,"color":"#fff"},{"offset":0.24,"color":"#fff"},
        {"offset":0.24,"color":"#000"},{"offset":0.248,"color":"#000"},{"offset":0.248,"color":"#fff"},{"offset":0.256,"color":"#fff"},
        {"offset":0.256,"color":"#000"},{"offset":0.264,"color":"#000"},{"offset":0.264,"color":"#fff"},{"offset":0.272,"color":"#fff"},
        {"offset":0.272,"color":"#000"},{"offset":0.28,"color":"#000"},{"offset":0.28,"color":"#fff"},{"offset":0.288,"color":"#fff"},
        {"offset":0.288,"color":"#000"},{"offset":0.296,"color":"#000"},{"offset":0.296,"color":"#fff"},{"offset":0.304,"color":"#fff"},
        {"offset":0.304,"color":"#000"},{"offset":0.312,"color":"#000"},{"offset":0.312,"color":"#fff"},{"offset":0.32,"color":"#fff"},
        {"offset":0.32,"color":"#000"},{"offset":0.328,"color":"#000"},{"offset":0.328,"color":"#fff"},{"offset":0.336,"color":"#fff"},
        {"offset":0.336,"color":"#000"},{"offset":0.344,"color":"#000"},{"offset":0.344,"color":"#fff"},{"offset":0.352,"color":"#fff"},
        {"offset":0.352,"color":"#000"},{"offset":0.36,"color":"#000"},{"offset":0.36,"color":"#fff"},{"offset":0.368,"color":"#fff"},
        {"offset":0.368,"color":"#000"},{"offset":0.376,"color":"#000"},{"offset":0.376,"color":"#fff"},{"offset":0.384,"color":"#fff"},
        {"offset":0.384,"color":"#000"},{"offset":0.392,"color":"#000"},{"offset":0.392,"color":"#fff"},{"offset":0.4,"color":"#fff"},
        {"offset":0.4,"color":"#000"},{"offset":0.408,"color":"#000"},{"offset":0.408,"color":"#fff"},{"offset":0.416,"color":"#fff"},
        {"offset":0.416,"color":"#000"},{"offset":0.424,"color":"#000"},{"offset":0.424,"color":"#fff"},{"offset":0.432,"color":"#fff"},
        {"offset":0.432,"color":"#000"},{"offset":0.44,"color":"#000"},{"offset":0.44,"color":"#fff"},{"offset":0.448,"color":"#fff"},
        {"offset":0.448,"color":"#000"},{"offset":0.456,"color":"#000"},{"offset":0.456,"color":"#fff"},{"offset":0.464,"color":"#fff"},
        {"offset":0.464,"color":"#000"},{"offset":0.472,"color":"#000"},{"offset":0.472,"color":"#fff"},{"offset":0.48,"color":"#fff"},
        {"offset":0.48,"color":"#000"},{"offset":0.488,"color":"#000"},{"offset":0.488,"color":"#fff"},{"offset":0.496,"color":"#fff"},
        {"offset":0.496,"color":"#000"},{"offset":0.504,"color":"#000"},{"offset":0.504,"color":"#fff"},{"offset":0.512,"color":"#fff"},
        {"offset":0.512,"color":"#000"},{"offset":0.52,"color":"#000"},{"offset":0.52,"color":"#fff"},{"offset":0.528,"color":"#fff"},
        {"offset":0.528,"color":"#000"},{"offset":0.536,"color":"#000"},{"offset":0.536,"color":"#fff"},{"offset":0.544,"color":"#fff"},
        {"offset":0.544,"color":"#000"},{"offset":0.552,"color":"#000"},{"offset":0.552,"color":"#fff"},{"offset":0.56,"color":"#fff"},
        {"offset":0.56,"color":"#000"},{"offset":0.568,"color":"#000"},{"offset":0.568,"color":"#fff"},{"offset":0.576,"color":"#fff"},
        {"offset":0.576,"color":"#000"},{"offset":0.584,"color":"#000"},{"offset":0.584,"color":"#fff"},{"offset":0.592,"color":"#fff"},
        {"offset":0.592,"color":"#000"},{"offset":0.6,"color":"#000"},{"offset":0.6,"color":"#fff"},{"offset":0.608,"color":"#fff"},
        {"offset":0.608,"color":"#000"},{"offset":0.616,"color":"#000"},{"offset":0.616,"color":"#fff"},{"offset":0.624,"color":"#fff"},
        {"offset":0.624,"color":"#000"},{"offset":0.632,"color":"#000"},{"offset":0.632,"color":"#fff"},{"offset":0.64,"color":"#fff"},
        {"offset":0.64,"color":"#000"},{"offset":0.648,"color":"#000"},{"offset":0.648,"color":"#fff"},{"offset":0.656,"color":"#fff"},
        {"offset":0.656,"color":"#000"},{"offset":0.664,"color":"#000"},{"offset":0.664,"color":"#fff"},{"offset":0.672,"color":"#fff"},
        {"offset":0.672,"color":"#000"},{"offset":0.68,"color":"#000"},{"offset":0.68,"color":"#fff"},{"offset":0.688,"color":"#fff"},
        {"offset":0.688,"color":"#000"},{"offset":0.696,"color":"#000"},{"offset":0.696,"color":"#fff"},{"offset":0.704,"color":"#fff"},
        {"offset":0.704,"color":"#000"},{"offset":0.712,"color":"#000"},{"offset":0.712,"color":"#fff"},{"offset":0.72,"color":"#fff"},
        {"offset":0.72,"color":"#000"},{"offset":0.728,"color":"#000"},{"offset":0.728,"color":"#fff"},{"offset":0.736,"color":"#fff"},
        {"offset":0.736,"color":"#000"},{"offset":0.744,"color":"#000"},{"offset":0.744,"color":"#fff"},{"offset":0.752,"color":"#fff"},
        {"offset":0.752,"color":"#000"},{"offset":0.76,"color":"#000"},{"offset":0.76,"color":"#fff"},{"offset":0.768,"color":"#fff"},
        {"offset":0.768,"color":"#000"},{"offset":0.776,"color":"#000"},{"offset":0.776,"color":"#fff"},{"offset":0.784,"color":"#fff"},
        {"offset":0.784,"color":"#000"},{"offset":0.792,"color":"#000"},{"offset":0.792,"color":"#fff"},{"offset":0.8,"color":"#fff"},
        {"offset":0.8,"color":"#000"},{"offset":0.808,"color":"#000"},{"offset":0.808,"color":"#fff"},{"offset":0.816,"color":"#fff"},
        {"offset":0.816,"color":"#000"},{"offset":0.824,"color":"#000"},{"offset":0.824,"color":"#fff"},{"offset":0.832,"color":"#fff"},
        {"offset":0.832,"color":"#000"},{"offset":0.84,"color":"#000"},{"offset":0.84,"color":"#fff"},{"offset":0.848,"color":"#fff"},
        {"offset":0.848,"color":"#000"},{"offset":0.856,"color":"#000"},{"offset":0.856,"color":"#fff"},{"offset":0.864,"color":"#fff"},
        {"offset":0.864,"color":"#000"},{"offset":0.872,"color":"#000"},{"offset":0.872,"color":"#fff"},{"offset":0.88,"color":"#fff"},
        {"offset":0.88,"color":"#000"},{"offset":0.888,"color":"#000"},{"offset":0.888,"color":"#fff"},{"offset":0.896,"color":"#fff"},
        {"offset":0.896,"color":"#000"},{"offset":0.904,"color":"#000"},{"offset":0.904,"color":"#fff"},{"offset":0.912,"color":"#fff"},
        {"offset":0.912,"color":"#000"},{"offset":0.92,"color":"#000"},{"offset":0.92,"color":"#fff"},{"offset":0.928,"color":"#fff"},
        {"offset":0.928,"color":"#000"},{"offset":0.936,"color":"#000"},{"offset":0.936,"color":"#fff"},{"offset":0.944,"color":"#fff"},
        {"offset":0.944,"color":"#000"},{"offset":0.952,"color":"#000"},{"offset":0.952,"color":"#fff"},{"offset":0.96,"color":"#fff"},
        {"offset":0.96,"color":"#000"},{"offset":0.968,"color":"#000"},{"offset":0.968,"color":"#fff"},{"offset":0.976,"color":"#fff"},
        {"offset":0.976,"color":"#000"},{"offset":0.984,"color":"#000"},{"offset":0.984,"color":"#fff"},{"offset":0.992,"color":"#fff"},
        {"offset":0.992,"color":"#000"},{"offset":1,"color":"#000"}
      ]}},
      "encoding": {"y": {"field": "value", "type": "quantitative"}}
    },
    {
      "mark": {"type": "text", "font": "Liberation Serif", "fontSize": 24, "color": "#000", "baseline": "alphabetic", "dy": -15},
      "encoding": {
        "y": {"field": "value", "type": "quantitative"},
        "text": {"field": "value", "type": "quantitative", "format": ".1f"}
      }
    },
    {
      "mark": {"type": "point", "shape": "M-1,-0.53H1V0.53H-1Z", "size": 4096, "filled": true, "fill": "#fff", "stroke": "#000", "strokeWidth": 1, "opacity": 1},
      "encoding": {"y": {"field": "median", "type": "quantitative"}}
    },
    {
      "mark": {"type": "text", "font": "Liberation Serif", "fontSize": 24, "color": "#000", "baseline": "middle", "dy": 1},
      "encoding": {
        "y": {"field": "median", "type": "quantitative"},
        "text": {"field": "mlabel", "type": "nominal"}
      }
    }
  ]
}
